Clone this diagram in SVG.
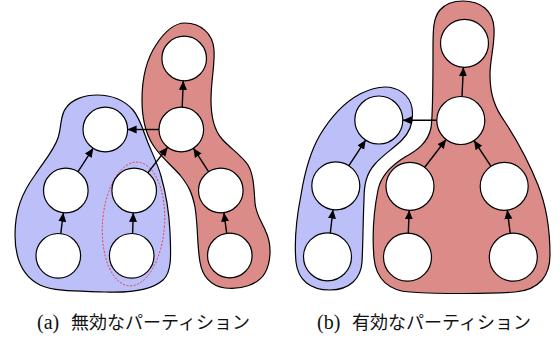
<svg xmlns="http://www.w3.org/2000/svg" width="560" height="338" viewBox="0 0 560 338">
  <style>
    .blue { fill: #bdbff9; stroke: #000; stroke-width: 1.2; }
    .red { fill: #db8c88; stroke: #000; stroke-width: 1.2; }
    .node { fill: #fff; stroke: #000; stroke-width: 1.2; }
    .edge { stroke: #000; stroke-width: 1.4; fill: none; marker-end: url(#head); }
    .cut { fill: none; stroke: #e8303a; stroke-width: 0.9; stroke-dasharray: 2 1.6; }
    .cap { font-size: 18px; fill: #111; }
    .lat { font-family: "Liberation Serif", serif; font-size: 20px; }
    .jp { font-family: "Noto Sans CJK JP", sans-serif; }
  </style>
  <defs>
    <marker id="head" viewBox="0 0 9 9" refX="9" refY="4.5" markerWidth="9" markerHeight="9" markerUnits="userSpaceOnUse" orient="auto">
      <path d="M0,0.5 L9,4.5 L0,8.5 z" fill="#000"/>
    </marker>
  </defs>

  <!-- (a) invalid partition -->
  <g id="partition-a">
    <path id="a-blue-region" class="blue" d="M 97,95 C 112,95 125,101 133,110 C 140,118 144,133 148,143 C 153,155 158,165 161,176 C 165,190 169,210 170,232 C 171,255 172,272 163,280 C 152,290 130,293 105,292 C 80,291 55,292 40,285 C 22,276 15,258 15,235 C 15,210 22,193 35,175 C 45,160 54,150 58,138 C 62,125 60,115 66,108 C 72,99 85,95 97,95 Z"/>
    <path id="a-red-region" class="red" d="M 185,23 C 200,23 213,33 214,50 C 215,65 211,80 211,100 C 211,118 214,130 222,139 C 230,148 242,156 248,165 C 254,175 254,190 255,203 C 256,215 262,222 266,232 C 272,245 271,262 265,273 C 258,285 240,290 225,288 C 210,286 202,275 200,262 C 197,245 198,225 195,207 C 192,192 188,185 180,175 C 170,164 160,156 153,145 C 146,134 142,118 142,100 C 142,80 146,60 156,45 C 165,31 175,23 185,23 Z"/>
    <ellipse id="a-cut" class="cut" cx="133.5" cy="224" rx="31" ry="62" transform="rotate(4 133.5 224)"/>
  </g>

  <!-- (b) valid partition -->
  <g id="partition-b">
    <path id="b-blue-region" class="blue" d="M 385,87 C 398,87 410,95 412,108 C 414,122 410,132 402,140 C 394,148 383,155 375,164 C 366,174 364,185 364,200 C 363,220 363,245 362,262 C 361,278 350,290 330,290 C 310,290 298,280 296,262 C 294,240 297,215 301,195 C 305,170 310,152 320,135 C 332,115 345,102 360,94 C 368,90 376,87 385,87 Z"/>
    <path id="b-red-region" class="red" d="M 463,1 C 480,1 493,10 494,28 C 495,45 490,58 490,75 C 490,95 495,108 505,122 C 520,145 530,165 538,185 C 546,205 550,230 550,255 C 550,275 540,290 515,292 C 490,294 440,294 410,292 C 390,291 376,280 374,258 C 372,235 374,210 378,190 C 381,175 392,165 405,157 C 418,150 428,142 431,128 C 433,115 433,80 433,50 C 433,30 433,18 440,10 C 446,3 453,1 463,1 Z"/>
  </g>

  <!-- connectors -->
  <g id="connectors">
    <line class="edge" x1="182.2" y1="107.2" x2="183.3" y2="80.8"/>
    <line class="edge" x1="159" y1="129.5" x2="127.6" y2="129.5"/>
    <line class="edge" x1="77.9" y1="171.8" x2="93.2" y2="148.2"/>
    <line class="edge" x1="147.8" y1="172.9" x2="167.7" y2="147.2"/>
    <line class="edge" x1="208.7" y1="171.8" x2="193.4" y2="148.2"/>
    <line class="edge" x1="60.8" y1="233.6" x2="63.3" y2="212.7"/>
    <line class="edge" x1="132.6" y1="233.5" x2="133.3" y2="212.8"/>
    <line class="edge" x1="226.7" y1="233.4" x2="223.9" y2="212.6"/>

    <line class="edge" x1="462.0" y1="96.5" x2="463.4" y2="67.3"/>
    <line class="edge" x1="436.8" y1="120.3" x2="402.8" y2="120.3"/>
    <line class="edge" x1="348.9" y1="165.7" x2="365.7" y2="140.1"/>
    <line class="edge" x1="330.3" y1="233.0" x2="333.0" y2="209.6"/>
    <line class="edge" x1="424.7" y1="167.3" x2="446.1" y2="139.5"/>
    <line class="edge" x1="491.0" y1="166.3" x2="474.0" y2="140.5"/>
    <line class="edge" x1="408.3" y1="233.2" x2="409.2" y2="210.3"/>
    <line class="edge" x1="510.2" y1="233.4" x2="507.3" y2="210.1"/>
  </g>

  <!-- nodes of (a) -->
  <g id="a-blue-top"><circle class="node" cx="105.3" cy="129.5" r="22.3"/></g>
  <g id="a-blue-mid-left"><circle class="node" cx="65.8" cy="190.5" r="22.3"/></g>
  <g id="a-blue-mid-right"><circle class="node" cx="134.2" cy="190.5" r="22.3"/></g>
  <g id="a-blue-bottom-left"><circle class="node" cx="58.3" cy="255.8" r="22.3"/></g>
  <g id="a-blue-bottom-right"><circle class="node" cx="131.7" cy="255.8" r="22.3"/></g>
  <g id="a-red-top"><circle class="node" cx="184.2" cy="58.5" r="22.3"/></g>
  <g id="a-red-mid"><circle class="node" cx="181.3" cy="129.5" r="22.3"/></g>
  <g id="a-red-mid-right"><circle class="node" cx="220.8" cy="190.5" r="22.3"/></g>
  <g id="a-red-bottom-right"><circle class="node" cx="229.8" cy="255.5" r="22.3"/></g>

  <!-- nodes of (b) -->
  <g id="b-red-top"><circle class="node" cx="464.5" cy="43.3" r="24"/></g>
  <g id="b-red-mid"><circle class="node" cx="460.8" cy="120.5" r="24"/></g>
  <g id="b-red-mid-left"><circle class="node" cx="410" cy="186.3" r="24"/></g>
  <g id="b-red-mid-right"><circle class="node" cx="504.2" cy="186.3" r="24"/></g>
  <g id="b-red-bottom-left"><circle class="node" cx="407.5" cy="257.2" r="24"/></g>
  <g id="b-red-bottom-right"><circle class="node" cx="513.3" cy="257.2" r="24"/></g>
  <g id="b-blue-top"><circle class="node" cx="378.8" cy="120" r="24"/></g>
  <g id="b-blue-mid"><circle class="node" cx="335.8" cy="185.8" r="24"/></g>
  <g id="b-blue-bottom"><circle class="node" cx="327.5" cy="256.8" r="24"/></g>

  <!-- captions -->
  <text class="cap" y="329"><tspan class="lat" x="37">(a)</tspan><tspan class="jp" x="71">無効なパーティション</tspan></text>
  <text class="cap" y="329"><tspan class="lat" x="317">(b)</tspan><tspan class="jp" x="352">有効なパーティション</tspan></text>
</svg>
